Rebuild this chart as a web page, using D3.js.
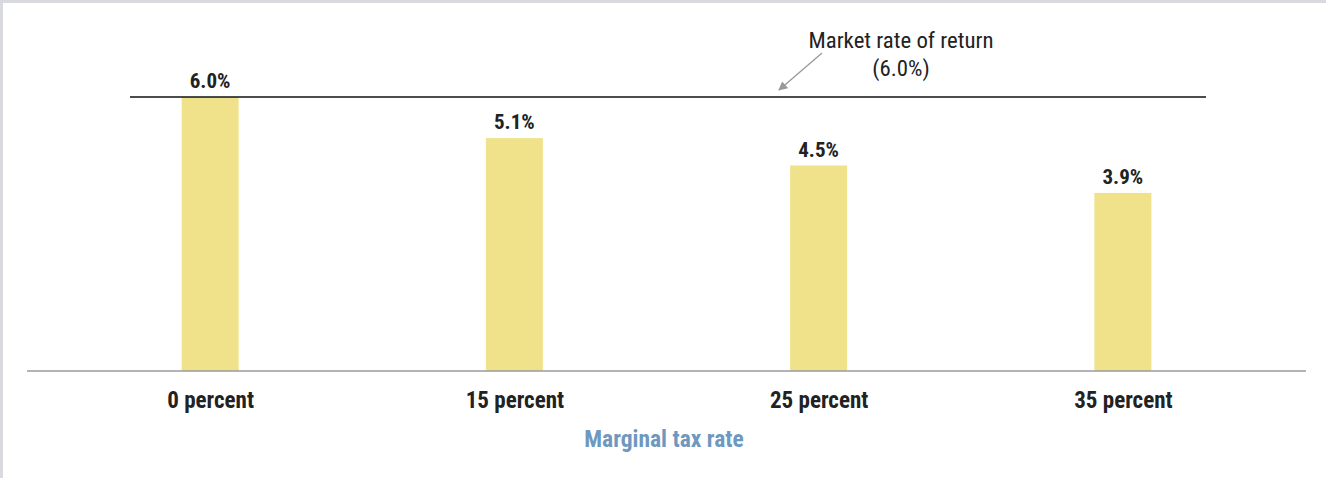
<!DOCTYPE html>
<html><head><meta charset="utf-8">
<script src="https://cdn.jsdelivr.net/npm/d3@7"></script>
<style>
html,body{margin:0;padding:0;background:#fff;}
svg{display:block;}
</style></head>
<body>
<svg id="chart" width="1329" height="478"></svg>
<script>
const categories = ["0 percent", "15 percent", "25 percent", "35 percent"];
const values = [6.0, 5.1, 4.5, 3.9];
const valueLabels = ["6.0%", "5.1%", "4.5%", "3.9%"];
const marketRate = 6.0;
const marketLabel = ["Market rate of return", "(6.0%)"];
const axisTitle = "Marginal tax rate";

const FONT = "'Liberation Sans Narrow','Roboto Condensed','Roboto',sans-serif";
const svg = d3.select("#chart");

// frame
svg.append("rect").attr("x",0).attr("y",0).attr("width",1326).attr("height",3).attr("fill","#d9d9e0");
svg.append("rect").attr("x",0).attr("y",0).attr("width",3).attr("height",478).attr("fill","#d9d9e0");

const x = d3.scalePoint().domain(categories).range([58,1275]).padding(0.5);
const y = d3.scaleLinear().domain([0,6]).range([371,97]);
const barW = 57;

svg.selectAll("rect.bar").data(values).join("rect")
  .attr("class","bar")
  .attr("x",(d,i)=>x(categories[i])-barW/2)
  .attr("y",d=>y(d))
  .attr("width",barW)
  .attr("height",d=>y(0)-y(d))
  .attr("fill","#f0e28a");

// baseline axis
const xAxis = d3.axisBottom(x).tickSize(0).tickPadding(0);
const gx = svg.append("g").attr("transform",`translate(0,${y(0)})`).call(xAxis);
gx.select(".domain").remove();
gx.append("line").attr("x1",27).attr("x2",1306).attr("y1",0).attr("y2",0)
  .attr("stroke","#9a9aa0").attr("stroke-width",1.5);
gx.selectAll(".tick text")
  .attr("y",37).attr("dy",0)
  .attr("font-family",FONT).attr("font-size",23).attr("font-weight","bold")
  .attr("fill","#222");

// value labels
svg.selectAll("text.val").data(values).join("text")
  .attr("class","val")
  .attr("x",(d,i)=>x(categories[i]))
  .attr("y",d=>y(d)-9)
  .attr("text-anchor","middle")
  .attr("font-family",FONT).attr("font-size",21).attr("font-weight","bold")
  .attr("fill","#222")
  .text((d,i)=>valueLabels[i]);

// market line
svg.append("line").attr("x1",130).attr("x2",1206)
  .attr("y1",y(marketRate)).attr("y2",y(marketRate))
  .attr("stroke","#111").attr("stroke-width",1.6);

// annotation
svg.selectAll("text.ann").data(marketLabel).join("text")
  .attr("class","ann")
  .attr("x",901).attr("y",(d,i)=>48+i*28)
  .attr("text-anchor","middle")
  .attr("font-family",FONT).attr("font-size",22.8)
  .attr("fill","#222").text(d=>d);

const defs = svg.append("defs");
defs.append("marker").attr("id","arr").attr("viewBox","0 0 10 10")
  .attr("refX",9).attr("refY",5).attr("markerWidth",9).attr("markerHeight",9)
  .attr("markerUnits","userSpaceOnUse").attr("orient","auto")
  .append("path").attr("d","M0,0 L10,5 L0,10 z").attr("fill","#999");
svg.append("line").attr("x1",822).attr("y1",53).attr("x2",779).attr("y2",90)
  .attr("stroke","#999").attr("stroke-width",1.3).attr("marker-end","url(#arr)");

// axis title
svg.append("text").attr("x",664).attr("y",447).attr("text-anchor","middle")
  .attr("font-family",FONT).attr("font-size",23.5).attr("font-weight","bold")
  .attr("fill","#6f98c0").text(axisTitle);
</script>
</body></html>
